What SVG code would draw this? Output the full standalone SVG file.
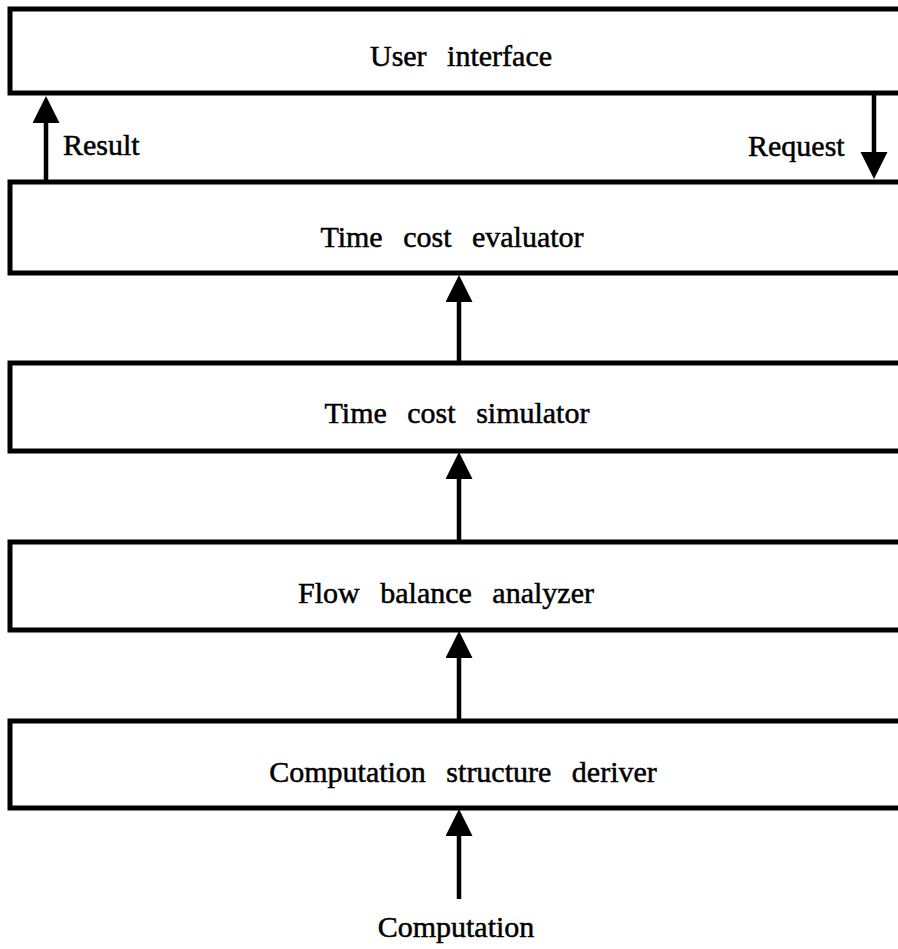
<svg xmlns="http://www.w3.org/2000/svg" width="898" height="949" viewBox="0 0 898 949">
<style>
.box{fill:#fff;stroke:#000;stroke-width:5}
.lbl{font-family:"Liberation Serif","Times New Roman",serif;font-size:30px;fill:#000;stroke:#000;stroke-width:0.5;word-spacing:13px}
.mid{text-anchor:middle}
.conn{stroke:#000;stroke-width:4.5;fill:none;marker-end:url(#ah)}
</style>
<defs>
<marker id="ah" markerUnits="userSpaceOnUse" markerWidth="28" markerHeight="28" refX="21" refY="13.5" orient="auto">
<path d="M0,0 L27,13.5 L0,27 Z" fill="#000"/>
</marker>
</defs>
<rect width="898" height="949" fill="#fff"/>
<g id="user-interface">
<rect class="box" x="10" y="9" width="900" height="84"/>
<text class="lbl mid" x="461" y="66">User interface</text>
</g>
<g id="time-cost-evaluator">
<rect class="box" x="10" y="182" width="900" height="91"/>
<text class="lbl mid" x="452" y="247">Time cost evaluator</text>
</g>
<g id="time-cost-simulator">
<rect class="box" x="10" y="363" width="900" height="88"/>
<text class="lbl mid" x="457" y="423">Time cost simulator</text>
</g>
<g id="flow-balance-analyzer">
<rect class="box" x="10" y="542" width="900" height="88"/>
<text class="lbl mid" x="446" y="603">Flow balance analyzer</text>
</g>
<g id="computation-structure-deriver">
<rect class="box" x="10" y="721" width="900" height="87"/>
<text class="lbl mid" x="463" y="782">Computation structure deriver</text>
</g>
<g id="computation-input">
<text class="lbl mid" x="456" y="937">Computation</text>
</g>
<g id="connectors">
<line class="conn" x1="46" y1="182" x2="46" y2="102"/>
<text class="lbl" x="63" y="155">Result</text>
<line class="conn" x1="874" y1="95" x2="874" y2="173"/>
<text class="lbl" x="748" y="156">Request</text>
<line class="conn" x1="459" y1="363" x2="459" y2="281"/>
<line class="conn" x1="459" y1="542" x2="459" y2="458"/>
<line class="conn" x1="459" y1="721" x2="459" y2="637"/>
<line class="conn" x1="459" y1="899" x2="459" y2="815"/>
</g>
</svg>
